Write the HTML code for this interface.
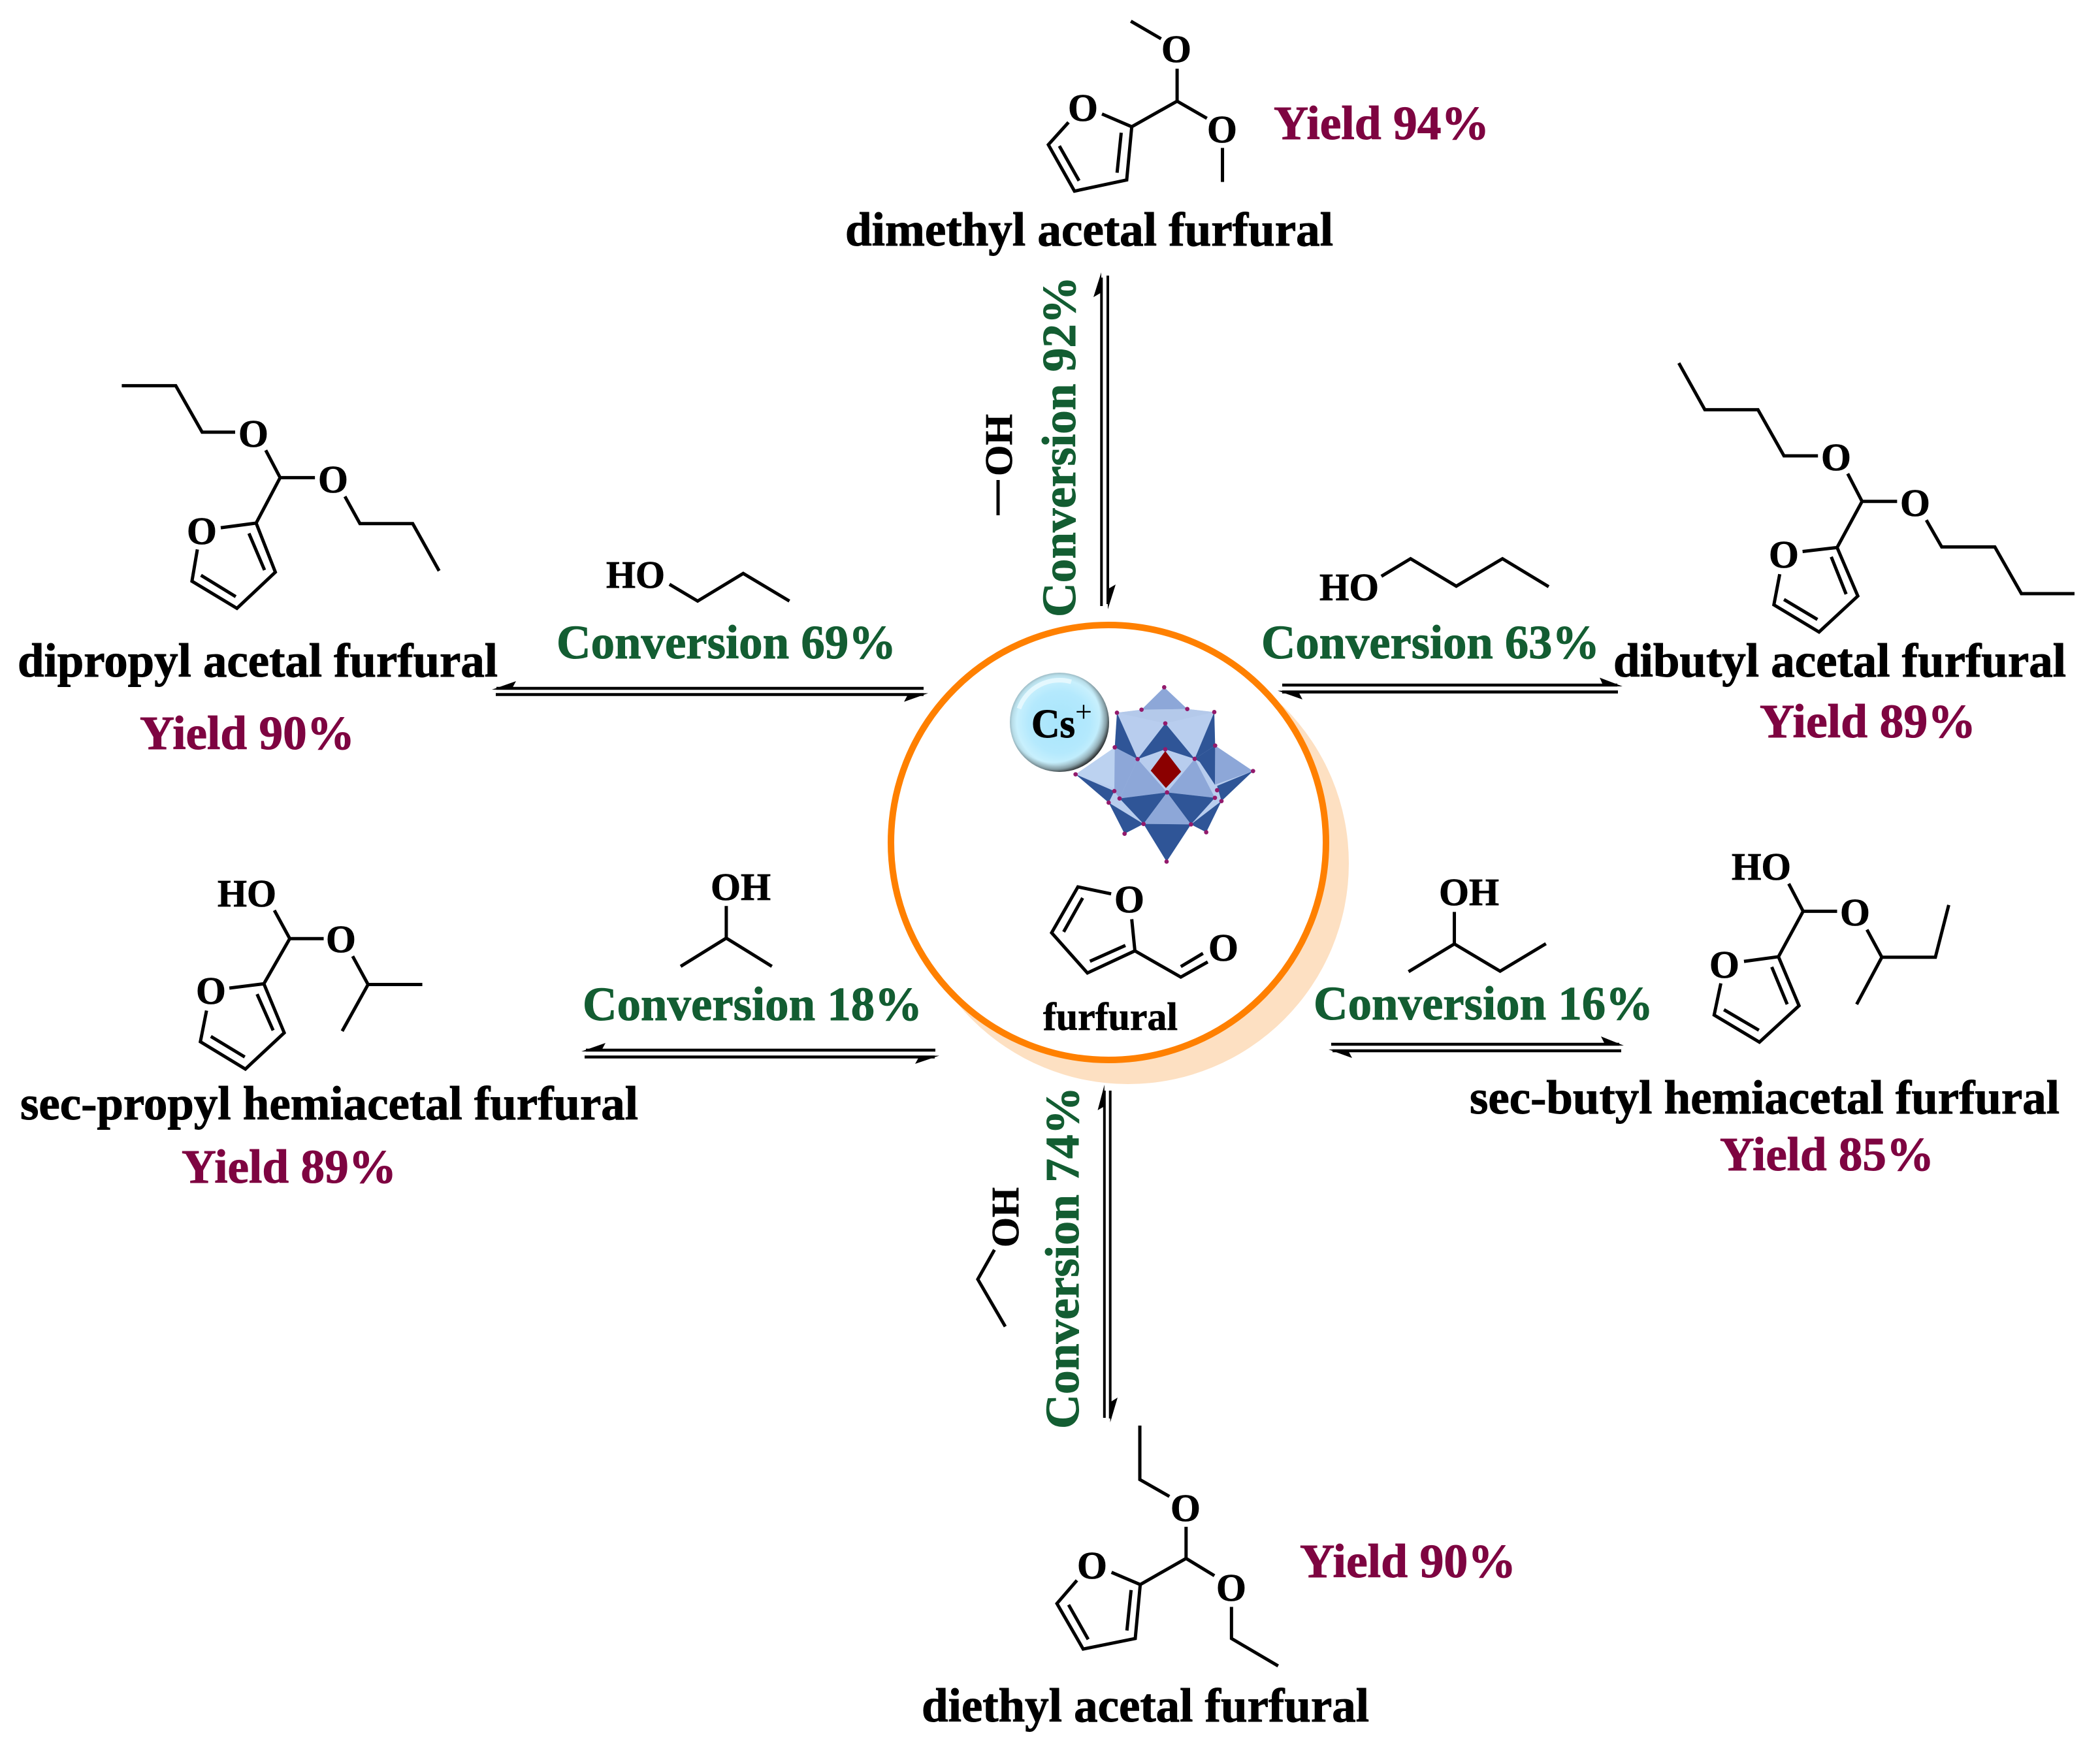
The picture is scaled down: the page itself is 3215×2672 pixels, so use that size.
<!DOCTYPE html>
<html><head><meta charset="utf-8"><style>
html,body{margin:0;padding:0;background:#fff}
svg{display:block}
text{font-family:"Liberation Serif",serif;font-weight:bold}
.b{fill:none;stroke:#000;stroke-width:5;vector-effect:non-scaling-stroke;stroke-linejoin:miter}
.g{fill:#135d32;stroke:#135d32;stroke-width:1;font-size:73px}
.p{fill:#7e0441;stroke:#7e0441;stroke-width:1;font-size:73px}
.k{fill:#000;stroke:#000;stroke-width:1;font-size:73px}
.a{fill:#000;stroke:#000;stroke-width:.8;font-size:59px;text-anchor:middle}
.h{fill:#000;stroke:#000;stroke-width:.8;font-size:59px}
.l{stroke:#000;stroke-width:4.6;fill:none}
</style></head><body>
<svg width="3215" height="2672" viewBox="0 0 3215 2672" xmlns="http://www.w3.org/2000/svg">
<defs>
<radialGradient id="ball" cx="50%" cy="50%" r="50%">
<stop offset="0" stop-color="#a8e5fc"/><stop offset=".62" stop-color="#b4e9fd"/><stop offset=".86" stop-color="#c8f0fd"/><stop offset=".95" stop-color="#b8dde8"/><stop offset="1" stop-color="#9dbcc6"/>
</radialGradient>
<radialGradient id="rim" cx="44%" cy="44%" r="58%">
<stop offset="0" stop-color="#222" stop-opacity="0"/><stop offset=".8" stop-color="#222" stop-opacity="0"/><stop offset=".92" stop-color="#222" stop-opacity=".35"/><stop offset="1" stop-color="#222" stop-opacity=".9"/>
</radialGradient>
</defs>
<rect width="3215" height="2672" fill="#fff"/>

<!-- centre circle -->
<circle cx="1727" cy="1322" r="338" fill="#fde0c2"/>
<circle cx="1697" cy="1290" r="333" fill="#fff" stroke="#ff8000" stroke-width="10"/>

<!-- polyoxometalate -->
<g transform="translate(1540 1030) scale(.33333)">
<polygon points="727,67 833,167 957,181 961,335 1135,452 990,590 920,733 850,697 738,868 632,695 545,740 472,597 320,467 500,343 510,184 623,170" fill="#b8cdee"/>
<polygon points="727,67 623,170 833,167" fill="#8da7d8"/>
<polygon points="623,170 833,167 957,181 732,233 510,184" fill="#b4c9ea"/>
<polygon points="510,184 732,233 605,397" fill="#b8cdee"/>
<polygon points="957,181 732,233 867,396" fill="#b8cdee"/>
<polygon points="510,184 605,397 500,343" fill="#2f5597"/>
<polygon points="957,181 867,396 961,335" fill="#2f5597"/>
<polygon points="732,233 605,397 732,352 867,396" fill="#2f5597"/>
<polygon points="320,467 500,343 500,530" fill="#bcd2f0"/>
<polygon points="500,343 605,397 522,578 498,544" fill="#8da7d8"/>
<polygon points="605,397 740,550 522,578" fill="#8da7d8"/>
<polygon points="867,396 740,550 960,575" fill="#8da7d8"/>
<polygon points="961,335 1135,452 960,515" fill="#8da7d8"/>
<polygon points="867,396 961,335 960,515 890,410" fill="#2f5597"/>
<polygon points="320,467 498,544 472,597" fill="#2f5597"/>
<polygon points="1135,452 970,520 990,590" fill="#2f5597"/>
<polygon points="472,597 632,695 545,740" fill="#2f5597"/>
<polygon points="990,590 850,697 920,733" fill="#2f5597"/>
<polygon points="522,578 740,550 632,695" fill="#2f5597"/>
<polygon points="960,575 740,550 850,697" fill="#2f5597"/>
<polygon points="740,550 632,695 850,697" fill="#8da7d8"/>
<polygon points="632,695 850,697 738,868" fill="#2f5597"/>
<polygon points="732,360 805,455 735,530 665,450" fill="#8b0000"/>
<g fill="#931a6c">
<circle cx="727" cy="67" r="10"/><circle cx="623" cy="170" r="10"/><circle cx="833" cy="167" r="10"/><circle cx="510" cy="184" r="10"/><circle cx="957" cy="181" r="10"/><circle cx="732" cy="233" r="10"/><circle cx="500" cy="343" r="10"/><circle cx="961" cy="335" r="10"/><circle cx="605" cy="397" r="10"/><circle cx="867" cy="396" r="10"/><circle cx="732" cy="352" r="10"/><circle cx="320" cy="467" r="10"/><circle cx="1135" cy="452" r="10"/><circle cx="498" cy="544" r="10"/><circle cx="970" cy="540" r="10"/><circle cx="522" cy="578" r="10"/><circle cx="960" cy="575" r="10"/><circle cx="740" cy="550" r="10"/><circle cx="472" cy="597" r="10"/><circle cx="990" cy="590" r="10"/><circle cx="632" cy="695" r="10"/><circle cx="850" cy="697" r="10"/><circle cx="545" cy="740" r="10"/><circle cx="920" cy="733" r="10"/><circle cx="738" cy="868" r="10"/>
</g>
</g>
<!-- Cs ball -->
<circle cx="1622" cy="1106" r="76" fill="url(#ball)"/>
<circle cx="1622" cy="1106" r="76" fill="url(#rim)"/>
<path d="M1560 1085 A66 66 0 0 1 1640 1044" fill="none" stroke="#e4f8fe" stroke-width="7"/>
<text x="1579" y="1129" style="font-size:62px;stroke:#000;stroke-width:1" textLength="67" lengthAdjust="spacingAndGlyphs">Cs</text>
<text x="1646" y="1105" style="font-size:46px;font-weight:normal">+</text>

<!-- furfural -->
<g transform="translate(1340 930) scale(.48473)">
<path class="b" d="M745 905L640 883L557 1028L670 1155L820 1085L810 985M655 918L595 1025M678 1118L790 1068M820 1085L965 1168L1050 1120M965 1135L1035 1093"/>
</g>
<text class="a" x="1729" y="1397">O</text>
<text class="a" x="1873" y="1471">O</text>
<text class="h" x="1597" y="1577" style="font-size:60px" textLength="206" lengthAdjust="spacingAndGlyphs">furfural</text>

<!-- TOP dimethyl -->
<g transform="translate(1250 0) scale(.70153 .61224)">
<path class="b" d="M686 53L752 97M787 172L787 253L852 296M787 253L688 317L623 285M688 317L677 450L563 478L506 362L550 306M665 332L656 432M573 452L530 365M886 370L886 455"/>
</g>
<text class="a" x="1801" y="95">O</text>
<text class="a" x="1658" y="185">O</text>
<text class="a" x="1871" y="218">O</text>
<text class="p" x="1950" y="213" textLength="330" lengthAdjust="spacingAndGlyphs">Yield 94%</text>
<text class="k" x="1294" y="376" textLength="747" lengthAdjust="spacingAndGlyphs">dimethyl acetal furfural</text>
<path class="l" d="M1686.3 425V928M1696 422V925" style="stroke-width:4"/>
<polygon points="1686,417 1674,455 1686,448" fill="#000"/>
<polygon points="1696,933 1708,895 1696,902" fill="#000"/>
<text class="g" transform="translate(1646 945) rotate(-90)" textLength="522" lengthAdjust="spacingAndGlyphs">Conversion 92%</text>
<text class="h" transform="translate(1549 729) rotate(-90)" textLength="95" lengthAdjust="spacingAndGlyphs">OH</text>
<path class="b" d="M1528 735V789"/>

<!-- LEFT dipropyl -->
<g transform="translate(0 540) scale(.91837 .39541)">
<path class="b" d="M203 128L293 128L337 308L392 308M443 378L467 484L525 484M467 484L427 660L368 678M427 660L459 850L395 990L320 885L329 762M415 700L441 842M393 945L335 862M575 557L600 662L688 662L732 845M1116 897L1163 962L1239 855L1316 962"/>
</g>
<text class="a" x="388" y="684">O</text>
<text class="a" x="510" y="754">O</text>
<text class="a" x="309" y="833">O</text>
<text class="h" x="928" y="900" textLength="90" lengthAdjust="spacingAndGlyphs">HO</text>
<text class="g" x="852" y="1008" textLength="520" lengthAdjust="spacingAndGlyphs">Conversion 69%</text>
<text class="k" x="27" y="1036" textLength="735" lengthAdjust="spacingAndGlyphs">dipropyl acetal furfural</text>
<text class="p" x="214" y="1147" textLength="329" lengthAdjust="spacingAndGlyphs">Yield 90%</text>
<path class="l" d="M760 1054H1414M759 1063.5H1414"/>
<polygon points="753,1056 790,1043 783,1056" fill="#000"/>
<polygon points="1421,1061.5 1384,1074.6 1391,1061.5" fill="#000"/>

<!-- RIGHT dibutyl -->
<g transform="translate(1940 520) scale(.81314 .40816)">
<path class="b" d="M775 88L824 263L924 263L973 436L1037 436M1093 503L1120 607L1186 607M1120 607L1073 780L1008 795M1073 780L1112 962L1039 1097L954 995L965 880M1062 815L1090 955M1036 1050L973 975M1241 677L1270 778L1370 778L1420 953L1520 953M215 888L270 822L356 925L443 822L530 927"/>
</g>
<text class="a" x="2811" y="720">O</text>
<text class="a" x="2932" y="790">O</text>
<text class="a" x="2731" y="869">O</text>
<text class="h" x="2020" y="919" textLength="91" lengthAdjust="spacingAndGlyphs">HO</text>
<text class="g" x="1931" y="1008" textLength="518" lengthAdjust="spacingAndGlyphs">Conversion 63%</text>
<text class="k" x="2470" y="1036" textLength="693" lengthAdjust="spacingAndGlyphs">dibutyl acetal furfural</text>
<text class="p" x="2694" y="1129" textLength="331" lengthAdjust="spacingAndGlyphs">Yield 89%</text>
<path class="l" d="M1963 1049H2476M1963 1059.6H2477"/>
<polygon points="2484,1051 2449,1037.6 2455,1051" fill="#000"/>
<polygon points="1956,1057.6 1994,1071 1987,1057.6" fill="#000"/>

<!-- LEFT sec-propyl -->
<g transform="translate(0 1280) scale(.94388 .36990)">
<path class="b" d="M445 308L470 425L525 425M470 425L428 612L372 630M428 612L461 815L398 965L325 852L335 723M417 655L443 805M397 915L342 830M572 498L597 615L685 615M597 615L555 808M1178 290L1178 423M1104 540L1178 423L1252 540"/>
</g>
<text class="h" x="333" y="1388" textLength="90" lengthAdjust="spacingAndGlyphs">HO</text>
<text class="a" x="522" y="1458">O</text>
<text class="a" x="323" y="1537">O</text>
<text class="h" x="1088" y="1378" textLength="92" lengthAdjust="spacingAndGlyphs">OH</text>
<text class="g" x="892" y="1562" textLength="520" lengthAdjust="spacingAndGlyphs">Conversion 18%</text>
<text class="k" x="31" y="1714" textLength="946" lengthAdjust="spacingAndGlyphs">sec-propyl hemiacetal furfural</text>
<text class="p" x="278" y="1811" textLength="329" lengthAdjust="spacingAndGlyphs">Yield 89%</text>
<path class="l" d="M897 1608H1432M895 1618.5H1431"/>
<polygon points="890,1610 927,1597 920,1610" fill="#000"/>
<polygon points="1438,1616.5 1401,1629 1408,1616.5" fill="#000"/>

<!-- RIGHT sec-butyl -->
<g transform="translate(1980 1280) scale(.78763 .35714)">
<path class="b" d="M963 205L991 323L1057 323M991 323L943 518L876 538M943 518L983 728L906 884L818 768L831 632M930 562L960 722M905 833L837 745M1115 402L1144 520L1248 520L1274 296M1144 520L1095 722M313 326L313 463M224 582L313 463L402 580L491 462"/>
</g>
<text class="h" x="2651" y="1347" textLength="91" lengthAdjust="spacingAndGlyphs">HO</text>
<text class="a" x="2840" y="1417">O</text>
<text class="a" x="2640" y="1497">O</text>
<text class="h" x="2203" y="1386" textLength="92" lengthAdjust="spacingAndGlyphs">OH</text>
<text class="g" x="2011" y="1561" textLength="520" lengthAdjust="spacingAndGlyphs">Conversion 16%</text>
<text class="k" x="2250" y="1705" textLength="903" lengthAdjust="spacingAndGlyphs">sec-butyl hemiacetal furfural</text>
<text class="p" x="2633" y="1792" textLength="328" lengthAdjust="spacingAndGlyphs">Yield 85%</text>
<path class="l" d="M2038 1599H2479M2040 1609H2482"/>
<polygon points="2486,1601 2451,1587 2458,1601" fill="#000"/>
<polygon points="2034,1607 2070,1620 2063,1607" fill="#000"/>

<!-- BOTTOM diethyl -->
<g transform="translate(1400 1660) scale(.63776 .64559)">
<path class="b" d="M192 393L152 463L218 575M541 810L541 938L612 978M652 1050L652 1125L720 1166M652 1125L542 1187L473 1158M542 1187L530 1315L405 1340L342 1232L390 1177M520 1200L510 1296M417 1317L370 1235M761 1240L761 1315L873 1380"/>
</g>
<text class="a" x="1815" y="2329">O</text>
<text class="a" x="1672" y="2417">O</text>
<text class="a" x="1885" y="2451">O</text>
<text class="p" x="1990" y="2415" textLength="331" lengthAdjust="spacingAndGlyphs">Yield 90%</text>
<text class="k" x="1411" y="2636" textLength="685" lengthAdjust="spacingAndGlyphs">diethyl acetal furfural</text>
<path class="l" d="M1690.8 1670V2171M1699.7 1670V2172" style="stroke-width:4"/>
<polygon points="1690.8,1661 1680.5,1700 1690.8,1694" fill="#000"/>
<polygon points="1699.7,2178 1711,2140 1699.7,2147" fill="#000"/>
<text class="g" transform="translate(1651 2188) rotate(-90)" textLength="524" lengthAdjust="spacingAndGlyphs">Conversion 74%</text>
<text class="h" transform="translate(1559 1910) rotate(-90)" textLength="92" lengthAdjust="spacingAndGlyphs">OH</text>
</svg>
</body></html>
